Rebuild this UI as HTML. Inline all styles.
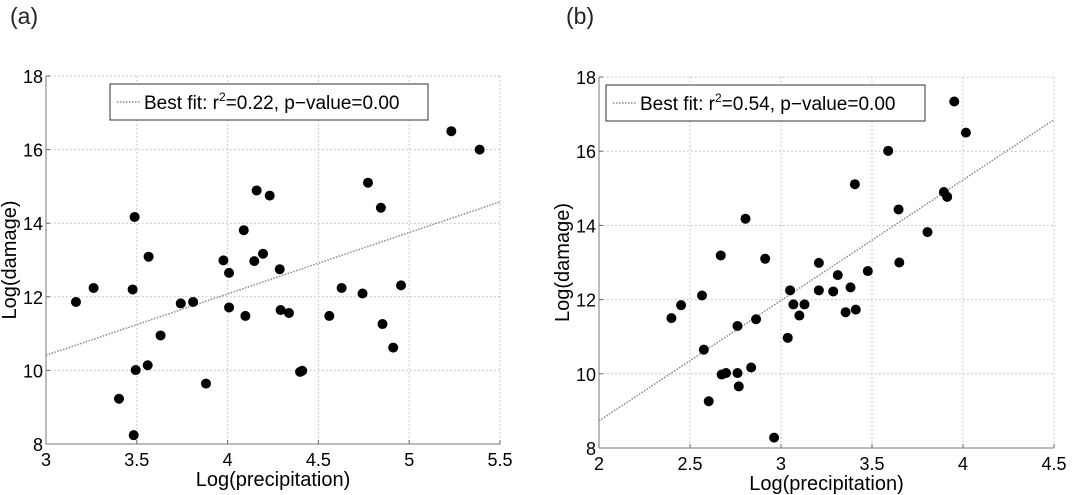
<!DOCTYPE html>
<html><head><meta charset="utf-8"><style>
html,body{margin:0;padding:0;background:#fff;}
svg{display:block;font-family:"Liberation Sans",Arial,sans-serif;}
</style></head><body>
<svg id="fig" width="1087" height="495" viewBox="0 0 1087 495">
<text x="10" y="24" font-size="23" fill="#222">(a)</text>
<text x="566" y="24" font-size="23" fill="#222">(b)</text>
</svg>
<script>
// Panel A data
const aX = [3.165,3.262,3.488,3.477,3.565,3.494,3.402,3.483,3.560,3.631,3.742,3.810,3.881,3.977,4.008,4.008,4.089,4.098,4.147,4.160,4.195,4.232,4.287,4.292,4.338,4.399,4.411,4.560,4.628,4.743,4.773,4.844,4.853,4.912,4.955,5.232,5.388];
const aY = [11.86,12.24,14.17,12.20,13.09,10.01,9.23,8.24,10.14,10.95,11.82,11.86,9.64,12.99,12.65,11.71,13.81,11.48,12.97,14.89,13.17,14.75,12.75,11.64,11.56,9.96,9.99,11.48,12.24,12.09,15.10,14.42,11.26,10.62,12.31,16.50,16.00];
const aFit = [10.41,14.58];
const aXTicks = ["3","3.5","4","4.5","5","5.5"];
// Panel B data
const bX = [2.398,2.451,2.566,2.576,2.603,2.669,2.674,2.698,2.761,2.768,2.761,2.805,2.836,2.863,2.913,2.962,3.037,3.050,3.068,3.101,3.129,3.208,3.208,3.287,3.312,3.355,3.382,3.406,3.411,3.477,3.589,3.646,3.650,3.805,3.895,3.913,3.952,4.016];
const bY = [11.50,11.85,12.11,10.65,9.26,13.19,9.98,10.02,10.02,9.66,11.29,14.18,10.17,11.47,13.10,8.28,10.97,12.25,11.87,11.57,11.87,12.99,12.25,12.22,12.66,11.66,12.33,15.11,11.73,12.77,16.01,14.43,13.00,13.82,14.90,14.77,17.34,16.50];
const bFit = [8.73,16.85];
const bXTicks = ["2","2.5","3","3.5","4","4.5"];
const yTicks = ["8","10","12","14","16","18"];

const NS="http://www.w3.org/2000/svg";
const svg=document.getElementById('fig');
function mk(tag,attrs,parent){const e=document.createElementNS(NS,tag);for(const k in attrs)e.setAttribute(k,attrs[k]);(parent||svg).appendChild(e);return e;}

function panel(id,px0,px1,py0,py1,xmin,xmax,xs,ys,fit,xt,r2,leg){
  const g=mk('g',{});
  
  
  const sx=v=>px0+(v-xmin)/(xmax-xmin)*(px1-px0);
  const sy=v=>py1-(v-8)/10*(py1-py0);
  xt.forEach(t=>{
    const x=sx(+t);
    const gl=mk('line',{x1:x,x2:x,y1:py0,y2:py1,stroke:'#bbb','stroke-dasharray':'1.5,2.5','stroke-width':1},g);
    
    
    mk('line',{x1:x,x2:x,y1:py1,y2:py1-4,stroke:'#666'},g);
    const tx=mk('text',{x:x,y:py1+22,'font-size':18,'text-anchor':'middle'},g);
    tx.textContent=t;
    
    
  });
  yTicks.forEach(t=>{
    const y=sy(+t);
    const gl=mk('line',{x1:px0,x2:px1,y1:y,y2:y,stroke:'#bbb','stroke-dasharray':'1.5,2.5','stroke-width':1},g);
    
    
    mk('line',{x1:px0,x2:px0+4,y1:y,y2:y,stroke:'#666'},g);
    const tx=mk('text',{x:px0-3,y:y+7,'font-size':18,'text-anchor':'end'},g);
    tx.textContent=t;
    
    
  });
  mk('line',{x1:px0,x2:px0,y1:py0,y2:py1,stroke:'#777','stroke-width':1},g);
  mk('line',{x1:px0,x2:px1,y1:py1,y2:py1,stroke:'#777','stroke-width':1},g);
  const fl=mk('line',{x1:sx(xmin),y1:sy(fit[0]),x2:sx(xmax),y2:sy(fit[1]),stroke:'#888','stroke-width':1.5,'stroke-dasharray':'1.5,1.5'},g);
  
  
  xs.forEach((v,i)=>{
    const c=mk('circle',{cx:sx(v),cy:sy(ys[i]),r:5,fill:'#000'},g);
    
    
  });
  const lg=mk('g',{},g);
  
  
  mk('rect',{x:leg[0],y:leg[1],width:leg[2],height:36,fill:'#fff',stroke:'#333','stroke-width':1},lg);
  mk('line',{x1:leg[0]+7,x2:leg[0]+30,y1:leg[1]+18,y2:leg[1]+18,stroke:'#888','stroke-width':1.5,'stroke-dasharray':'1.5,1.5'},lg);
  const lt=mk('text',{x:leg[0]+34,y:leg[1]+25,'font-size':19},lg);
  lt.innerHTML='Best fit:  r<tspan dy="-8" font-size="12">2</tspan><tspan dy="8">='+r2+', p\u2212value=0.00</tspan>';
  
  
  const xl=mk('text',{x:(px0+px1)/2,y:py1+42,'font-size':20,'text-anchor':'middle'},g);
  xl.textContent='Log(precipitation)';
  
  
  const yc=(py0+py1)/2, yx=px0-30;
  const yl=mk('text',{x:yx,y:yc,'font-size':20,'text-anchor':'middle',transform:`rotate(-90 ${yx} ${yc})`},g);
  yl.textContent='Log(damage)';
  
  
}
panel('panel-a',46,500,76,444,3,5.5,aX,aY,aFit,aXTicks,'0.22',[110,84,318]);
panel('panel-b',599,1054,77,448,2,4.5,bX,bY,bFit,bXTicks,'0.54',[606,85,319]);
</script>
</body></html>
